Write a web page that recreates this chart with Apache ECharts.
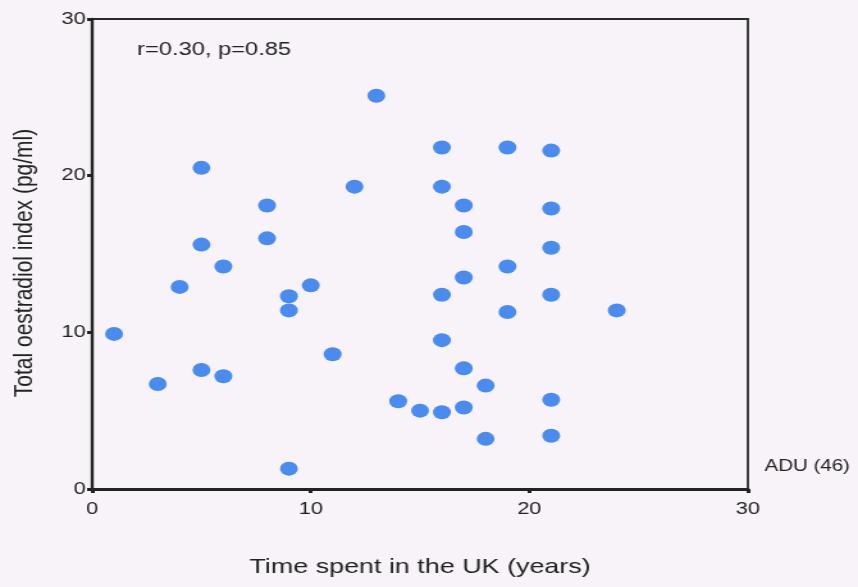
<!DOCTYPE html>
<html>
<head>
<meta charset="utf-8">
<script src="https://cdn.jsdelivr.net/npm/echarts@6/dist/echarts.min.js"></script>
<style>
html,body{margin:0;padding:0;background:#f8f3f9;overflow:hidden;}
#chart{width:670px;height:587px;transform:scaleX(1.2806);transform-origin:0 0;}
</style>
</head>
<body>
<div id="chart"></div>
<script>
var timeInUK = [1, 3, 4, 5, 5, 5, 6, 6, 8, 8, 9, 9, 9, 10, 11, 12, 13, 14, 15,
  16, 16, 16, 16, 16, 17, 17, 17, 17, 17, 18, 18, 19, 19, 19, 21, 21, 21, 21, 21, 21, 24];
var oestradiol = [9.9, 6.7, 12.9, 20.5, 15.6, 7.6, 14.2, 7.2, 18.1, 16.0, 12.3, 11.4, 1.3, 13.0, 8.6, 19.3, 25.1, 5.6, 5.0,
  21.8, 19.3, 12.4, 9.5, 4.9, 18.1, 16.4, 13.5, 7.7, 5.2, 6.6, 3.2, 21.8, 14.2, 11.3, 21.6, 17.9, 15.4, 12.4, 5.7, 3.4, 11.4];
var xTicks = [0, 10, 20, 30];
var yTicks = [0, 10, 20, 30];
var annotation = 'r=0.30, p=0.85';
var groupLabel = 'ADU (46)';
var xTitle = 'Time spent in the UK (years)';
var yTitle = 'Total oestradiol index (pg/ml)';

var points = timeInUK.map(function (x, i) { return [x, oestradiol[i]]; });
var font = '"Liberation Sans", Arial, sans-serif';
var textColor = '#222';
var chart = echarts.init(document.getElementById('chart'), null, {renderer: 'canvas'});
chart.setOption({
  backgroundColor: '#f8f3f9',
  animation: false,
  grid: {left: 72, right: 86, top: 19, bottom: 98, show: true, borderColor: '#2a2a2a', borderWidth: 1.8, backgroundColor: 'transparent'},
  xAxis: {
    type: 'value', min: xTicks[0], max: xTicks[xTicks.length - 1], interval: 10,
    name: xTitle, nameLocation: 'middle', nameGap: 68,
    nameTextStyle: {fontFamily: font, fontSize: 21, color: textColor},
    axisLine: {show: true, onZero: false, lineStyle: {color: '#222', width: 3}},
    axisTick: {show: true, length: 4, lineStyle: {color: '#222', width: 3}},
    axisLabel: {fontFamily: font, fontSize: 17, color: textColor, margin: 12},
    splitLine: {show: false}
  },
  yAxis: {
    type: 'value', min: yTicks[0], max: yTicks[yTicks.length - 1], interval: 10,
    axisLine: {show: true, onZero: false, lineStyle: {color: '#222', width: 2.4}},
    axisTick: {show: true, length: 4, lineStyle: {color: '#222', width: 3}},
    axisLabel: {fontFamily: font, fontSize: 17, color: textColor, margin: 5},
    splitLine: {show: false}
  },
  series: [{
    type: 'scatter',
    data: points,
    symbol: 'circle',
    symbolSize: 14,
    itemStyle: {color: '#4a8bf0', opacity: 1}
  }],
  graphic: [
    {type: 'text', left: 107, top: 40, style: {text: annotation, font: '18.5px ' + font, fill: textColor}},
    {type: 'text', left: 597, top: 459, style: {text: groupLabel, font: '16px ' + font, fill: textColor}},
    {type: 'text', x: 19.5, y: 263, rotation: Math.PI / 2,
      style: {text: yTitle, font: '21px ' + font, fill: textColor, align: 'center', verticalAlign: 'middle'}}
  ]
});
</script>
</body>
</html>
